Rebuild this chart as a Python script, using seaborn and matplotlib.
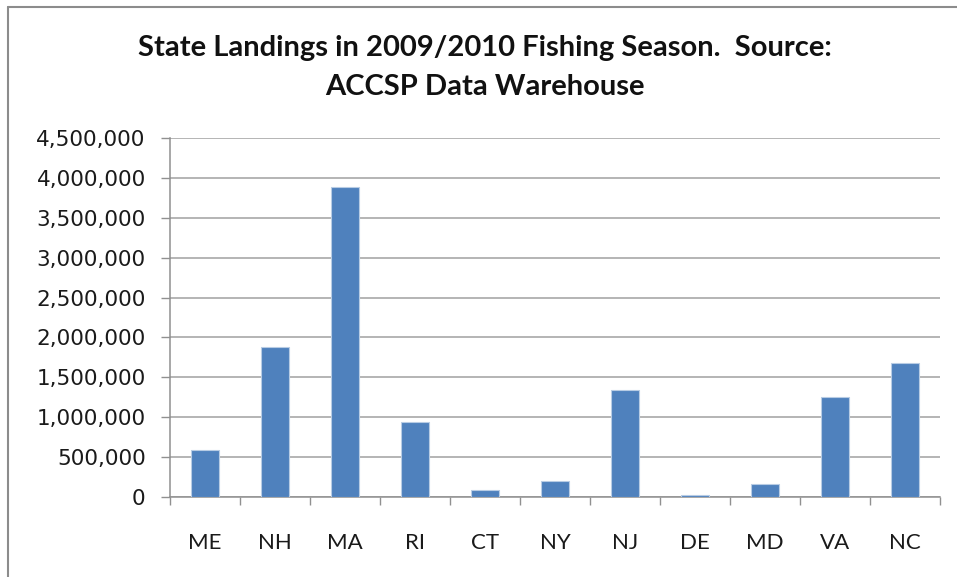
import matplotlib
matplotlib.use("Agg")
import matplotlib.pyplot as plt
import seaborn as sns
import pandas as pd
from matplotlib.ticker import FuncFormatter, FixedLocator
from matplotlib.lines import Line2D

states = ["ME", "NH", "MA", "RI", "CT", "NY", "NJ", "DE", "MD", "VA", "NC"]
landings = [595000, 1885000, 3880000, 934000, 84000, 197000, 1340000, 22000, 159000, 1256000, 1675000]
y_ticks = [0, 500000, 1000000, 1500000, 2000000, 2500000, 3000000, 3500000, 4000000, 4500000]
title = "State Landings in 2009/2010 Fishing Season.  Source:\nACCSP Data Warehouse"

df = pd.DataFrame({"state": states, "landings": landings})

sns.set_theme(style="white")
plt.rcParams["font.family"] = ["DejaVu Sans"]

fig = plt.figure(figsize=(9.57, 5.77), dpi=100)
ax = fig.add_axes([170/957, 1-497/577, (940-170)/957, (497-138)/577])

sns.barplot(data=df, x="state", y="landings", color="#4F81BD", width=0.4,
            edgecolor="#b8cce4", linewidth=0.8, saturation=1, ax=ax, zorder=3)

ax.set_ylim(0, 4500000)
ax.set_xlim(-0.5, len(states) - 0.5)
ax.yaxis.set_major_locator(FixedLocator(y_ticks))
ax.yaxis.set_major_formatter(FuncFormatter(lambda v, p: f"{int(v):,}"))
ax.grid(axis="y", color="#a0a0a0", linewidth=1.1, zorder=0)
ax.grid(axis="x", visible=False)
ax.set_xlabel("")
ax.set_ylabel("")

for s in ["top", "right"]:
    ax.spines[s].set_visible(False)
ax.spines["left"].set_color("#909090")
ax.spines["bottom"].set_color("#909090")
ax.spines["left"].set_linewidth(1.1)
ax.spines["bottom"].set_linewidth(1.1)

ax.tick_params(axis="y", which="major", direction="out", length=6.5, width=1.0,
               color="#909090", pad=11, labelsize=15.5, labelcolor="#1a1a1a", left=True)
ax.set_xticks(range(len(states)))
ax.set_xticklabels(states, fontfamily="Lato", fontsize=16, color="#1a1a1a")
ax.tick_params(axis="x", which="major", length=0, pad=26)
ax.set_xticks([i - 0.5 for i in range(len(states) + 1)], minor=True)
ax.tick_params(axis="x", which="minor", direction="out", length=6, width=1.0,
               color="#909090", bottom=True)

fig.text(485/957, 1-67.5/577, title, ha="center", va="center", fontfamily="Lato",
         fontweight="bold", fontsize=21, linespacing=1.6, color="#111111")

fig.add_artist(Line2D([8/957, 1], [1-7/577, 1-7/577], color="#8c8c8c", linewidth=1.5,
                      transform=fig.transFigure))
fig.add_artist(Line2D([8/957, 8/957], [0, 1-7/577], color="#8c8c8c", linewidth=1.5,
                      transform=fig.transFigure))

fig.savefig("out.png", dpi=100, facecolor="white")
